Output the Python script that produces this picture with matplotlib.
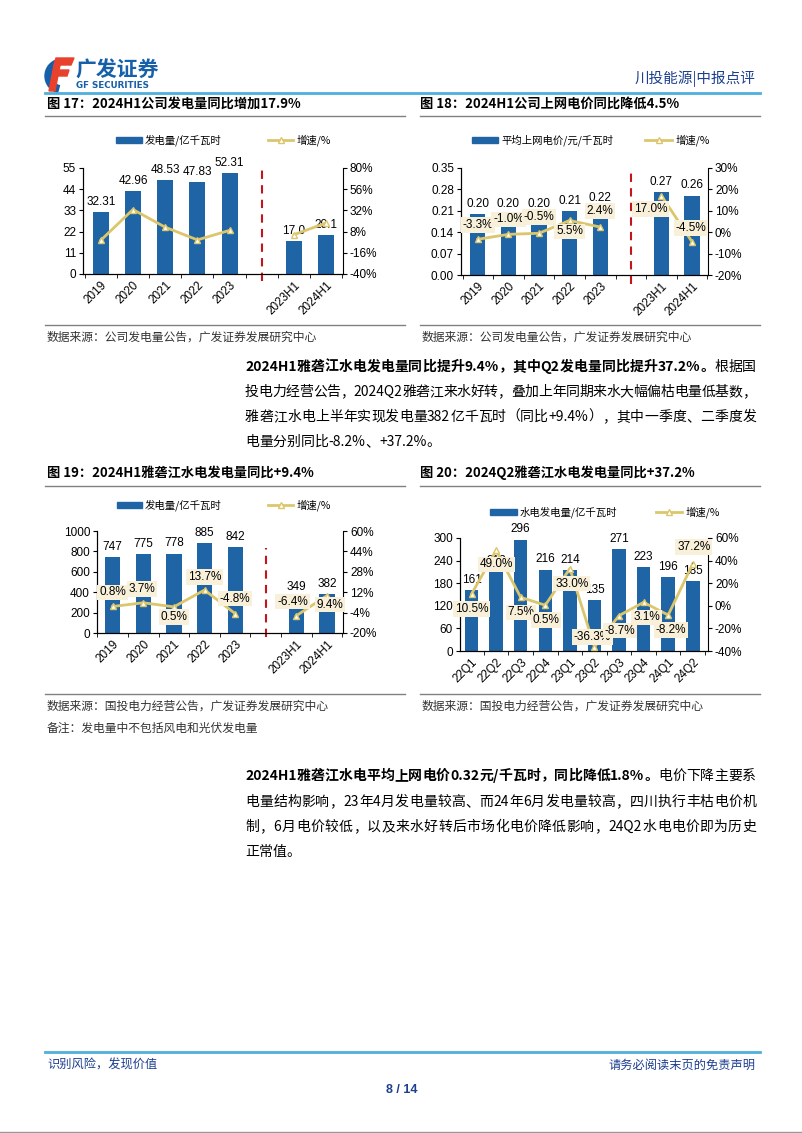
import re
import numpy as np
import matplotlib
matplotlib.use('Agg')
import matplotlib.pyplot as plt
from matplotlib.patches import Rectangle, Polygon, Wedge
from matplotlib.ticker import FuncFormatter, FixedLocator

W, H = 802, 1133
CJK = 'Noto Sans CJK SC'
LAT = ['Liberation Sans', 'Noto Sans CJK SC']
plt.rcParams['font.family'] = LAT

BLUE = '#1f65a6'
GOLD = '#dcc66c'
BOX = '#f8f0d9'
RED = '#c0161c'
NAVY = '#1d3f8f'

# fig 17: company generation
years = ['2019', '2020', '2021', '2022', '2023', '', '2023H1', '2024H1']
gen17 = [32.31, 42.96, 48.53, 47.83, 52.31, np.nan, 17.0, 20.1]
gen17_lbl = ['32.31', '42.96', '48.53', '47.83', '52.31', '', '17.0', '20.1']
yoy17 = [-1.9, 33.0, 13.0, -1.4, 9.4, np.nan, 4.5, 17.9]

# fig 18: on-grid price
price18 = [0.20, 0.20, 0.20, 0.21, 0.22, np.nan, 0.27, 0.26]
price18_lbl = ['0.20', '0.20', '0.20', '0.21', '0.22', '', '0.27', '0.26']
yoy18 = [-3.3, -1.0, -0.5, 5.5, 2.4, np.nan, 17.0, -4.5]

# fig 19: Yalong hydro generation
gen19 = [747, 775, 778, 885, 842, np.nan, 349, 382]
gen19_lbl = ['747', '775', '778', '885', '842', '', '349', '382']
yoy19 = [0.8, 3.7, 0.5, 13.7, -4.8, np.nan, -6.4, 9.4]

# fig 20: quarterly hydro generation
quarters = ['22Q1', '22Q2', '22Q3', '22Q4', '23Q1', '23Q2', '23Q3', '23Q4', '24Q1', '24Q2']
gen20 = [161, 212, 296, 216, 214, 135, 271, 223, 196, 185]
yoy20 = [10.5, 49.0, 7.5, 0.5, 33.0, -36.3, -8.7, 3.1, -8.2, 37.2]

fig = plt.figure(figsize=(W / 100, H / 100), dpi=100)
bg = fig.add_axes([0, 0, 1, 1])
bg.set_xlim(0, W)
bg.set_ylim(H, 0)
bg.axis('off')
renderer = fig.canvas.get_renderer()


def add_ax(l, t, r, b):
    return fig.add_axes([l / W, 1 - b / H, (r - l) / W, (b - t) / H])


def pct(v, _):
    return f'{v:.0f}%'


def combo(box, cats, bars, bar_lbl, yoy, ylim, ystep, y2lim, y2step, yfmt,
          xlim, width, offs=None, dash=None, leader=None):
    ax = add_ax(*box)
    ax.set_facecolor('none')
    x = np.arange(len(cats))
    b = ax.bar(x, bars, width=width, color=BLUE, zorder=2)
    ax.bar_label(b, labels=bar_lbl, padding=3, fontsize=8.5)
    ax.set_xlim(*xlim)
    ax.set_ylim(*ylim)
    ax.set_yticks(np.arange(ylim[0], ylim[1] + ystep / 2, ystep))
    ax.yaxis.set_major_formatter(FuncFormatter(yfmt))
    ax.set_xticks(x)
    ax.set_xticklabels(cats, rotation=45, ha='right', va='top',
                       rotation_mode='anchor', fontsize=8.5)
    ax.xaxis.set_minor_locator(FixedLocator(np.arange(-0.5, len(cats))))
    ax.tick_params(axis='x', which='major', length=0, pad=4)
    ax.tick_params(axis='x', which='minor', length=3, direction='out')
    ax.tick_params(axis='y', length=3, direction='out', labelsize=8.5, pad=2)
    for s in ['top', 'right']:
        ax.spines[s].set_visible(False)
    if dash is not None:
        ax.axvline(5, ymin=dash[0], ymax=dash[1], color=RED, lw=1.5,
                   ls=(0, (4, 3)), clip_on=False, zorder=3)

    ax2 = ax.twinx()
    ax2.plot(x, yoy, color=GOLD, lw=2, marker='^', ms=4.5, mfc='white',
             mec=GOLD, mew=1, zorder=3)
    ax2.set_ylim(*y2lim)
    ax2.set_yticks(np.arange(y2lim[0], y2lim[1] + y2step / 2, y2step))
    ax2.yaxis.set_major_formatter(FuncFormatter(pct))
    ax2.tick_params(axis='y', length=3, direction='out', labelsize=8.5, pad=2)
    ax2.spines['top'].set_visible(False)
    if offs is not None:
        k = 0
        for i, v in enumerate(yoy):
            if np.isnan(v):
                continue
            dx, dy = offs[k]
            k += 1
            ap = None
            if leader is not None and i == leader:
                ap = dict(arrowstyle='-', color='#666666', lw=0.6,
                          shrinkA=6, shrinkB=3)
            ax2.annotate(f'{v:.1f}%', (i, v), xytext=(dx, dy),
                         textcoords='offset pixels', ha='center', va='center',
                         fontsize=8.5, zorder=6, arrowprops=ap,
                         bbox=dict(boxstyle='square,pad=0.15', fc=BOX, ec='none'))
    return ax, ax2


def legend(xb0, xb1, xl0, xl1, y, lab1, lab2):
    bg.add_patch(Rectangle((xb0, y - 3), xb1 - xb0, 6, color=BLUE))
    bg.text(xb1 + 3, y, lab1, fontsize=7.5, family=CJK, va='center')
    bg.plot([xl0, xl1], [y, y], color=GOLD, lw=2)
    bg.plot([(xl0 + xl1) / 2], [y], marker='^', ms=4, mfc='white', mec=GOLD)
    bg.text(xl1 + 4, y, lab2, fontsize=7.5, family=CJK, va='center')


# chart 17
combo((83, 168, 343, 274), years, gen17, gen17_lbl, yoy17, (0, 55), 11,
      (-40, 80), 24, lambda v, _: f'{v:.0f}', (-0.55, 7.52), 0.5,
      dash=(-0.07, 1.0))
legend(116, 142, 268, 293, 140, '发电量/亿千瓦时', '增速/%')

# chart 18
combo((461, 168, 708, 275), years, price18, price18_lbl, yoy18, (0, 0.35), 0.07,
      (-20, 30), 10, lambda v, _: f'{v:.2f}', (-0.55, 7.52), 0.5,
      offs=[(0, 14), (0, 15), (0, 16), (0, -11), (0, 16), (-11, -13), (-1, 14)],
      dash=(-0.08, 0.97))
legend(472, 498, 645, 672, 140, '平均上网电价/元/千瓦时', '增速/%')

# chart 19
combo((97, 531, 343, 633), years, gen19, gen19_lbl, yoy19, (0, 1000), 200,
      (-20, 60), 16, lambda v, _: f'{v:.0f}', (-0.51, 7.52), 0.5,
      offs=[(0, 14), (-1, 14), (0, -10), (0, 13), (0, 15), (-4, 14), (3, -9)],
      dash=(-0.04, 0.83))
legend(117, 142, 268, 293, 505, '发电量/亿千瓦时', '增速/%')

# chart 20
combo((460, 538, 708, 651), quarters, gen20, [str(v) for v in gen20], yoy20,
      (0, 300), 60, (-40, 60), 20, lambda v, _: f'{v:.0f}', (-0.47, 9.62), 0.55,
      offs=[(0, -15), (0, -14), (0, -15), (1, -15), (2, -15), (-2, 10),
            (1, -15), (3, -15), (3, -15), (1, 17)],
      leader=9)
legend(490, 517, 656, 682, 512, '水电发电量/亿千瓦时', '增速/%')

# ---- page decorations ----
# logo
bg.add_patch(Wedge((62, 76), 17, 105, 255, width=7, color='#1560a8'))
bg.add_patch(Polygon([(56, 58), (74, 58), (71, 65), (54, 65)], color='#e8412c'))
bg.add_patch(Polygon([(55, 70), (69, 70), (67, 76), (53, 76)], color='#e8412c'))
bg.add_patch(Polygon([(54, 65), (60, 65), (55, 91), (49, 91)], color='#e8412c'))
bg.text(75, 70, '广发证券', fontsize=15, weight='bold', color='#1560a8',
        family=CJK, va='center')
bg.text(76, 85.5, 'GF SECURITIES', fontsize=6.3, weight='bold', color='#1560a8',
        family=['DejaVu Sans'], va='center')
bg.text(755, 79, '川投能源|中报点评', ha='right', va='center', fontsize=10.5,
        color=NAVY, family=CJK)
bg.plot([45, 760], [93, 93], color='#4db0dd', lw=2)

GRAY = '#808080'
for y in (116, 325, 486, 694):
    bg.plot([45, 405], [y, y], color=GRAY, lw=1)
    bg.plot([420, 760], [y, y], color=GRAY, lw=1)

tkw = dict(fontsize=9.5, weight='bold', family=CJK, va='center')
bg.text(47, 104, '图 17：2024H1公司发电量同比增加17.9%', **tkw)
bg.text(420, 104, '图 18：2024H1公司上网电价同比降低4.5%', **tkw)
bg.text(47, 473, '图 19：2024H1雅砻江水电发电量同比+9.4%', **tkw)
bg.text(420, 473, '图 20：2024Q2雅砻江水电发电量同比+37.2%', **tkw)

skw = dict(fontsize=8.5, family=CJK, va='center', color='#333333')
bg.text(47, 337, '数据来源：公司发电量公告，广发证券发展研究中心', **skw)
bg.text(422, 337, '数据来源：公司发电量公告，广发证券发展研究中心', **skw)
bg.text(47, 706, '数据来源：国投电力经营公告，广发证券发展研究中心', **skw)
bg.text(422, 706, '数据来源：国投电力经营公告，广发证券发展研究中心', **skw)
bg.text(47, 728, '备注：发电量中不包括风电和光伏发电量', **skw)

PFS = 10


def measure(s, weight):
    t = bg.text(0, 0, s, fontsize=PFS, weight=weight, family=CJK)
    w = t.get_window_extent(renderer).width
    t.remove()
    return w


def text_line(x0, x1, y, segs, justify):
    # runs of ASCII stay together, spare width goes between the units
    units = []
    base = 0.0
    ref = measure('口', 'normal')
    for s, wt in segs:
        pos = 0
        for m in re.finditer(r'[\x21-\x7e]+|.', s):
            pos = m.end()
            units.append((m.group(), wt, base + measure(s[:pos], wt)))
        base += measure(s + '口', wt) - ref
    n = len(units)
    extra = 0.0
    if justify and n > 1:
        last, wt, r = units[-1]
        rb = measure(last + '口', wt) - ref - measure(last, wt)
        extra = (x1 - rb + 1 - x0) - r
    for j, (c, wt, r) in enumerate(units):
        bg.text(x0 + r + extra * j / max(n - 1, 1), y + 4, c, fontsize=PFS,
                weight=wt, family=CJK, ha='right', va='baseline')


def paragraph(x0, x1, ys, lines):
    for k, (y, segs) in enumerate(zip(ys, lines)):
        text_line(x0, x1, y, segs, k < len(lines) - 1)


paragraph(245, 755, [367, 392, 417, 442], [
    [('2024H1雅砻江水电发电量同比提升9.4%，其中Q2发电量同比提升37.2%。', 'bold'),
     ('根据国', 'normal')],
    [('投电力经营公告，2024Q2雅砻江来水好转，叠加上年同期来水大幅偏枯电量低基数，', 'normal')],
    [('雅砻江水电上半年实现发电量382亿千瓦时（同比+9.4%），其中一季度、二季度发', 'normal')],
    [('电量分别同比-8.2%、+37.2%。', 'normal')]])

paragraph(245, 755, [776, 802, 827, 852], [
    [('2024H1雅砻江水电平均上网电价0.32元/千瓦时，同比降低1.8%。', 'bold'),
     ('电价下降主要系', 'normal')],
    [('电量结构影响，23年4月发电量较高、而24年6月发电量较高，四川执行丰枯电价机', 'normal')],
    [('制，6月电价较低，以及来水好转后市场化电价降低影响，24Q2水电电价即为历史', 'normal')],
    [('正常值。', 'normal')]])

# footer
bg.plot([45, 760], [1052, 1052], color='#4db0dd', lw=2)
bg.text(47, 1065, '识别风险，发现价值', fontsize=8.8, family=CJK, va='center', color=NAVY)
bg.text(755, 1065, '请务必阅读末页的免责声明', fontsize=8.8, family=CJK, va='center',
        ha='right', color=NAVY)
bg.text(402, 1090, '8 / 14', fontsize=9, weight='bold', ha='center', va='center',
        color=NAVY)
bg.plot([0, W], [1132, 1132], color='#999999', lw=1)

fig.savefig('out.png', dpi=100)
